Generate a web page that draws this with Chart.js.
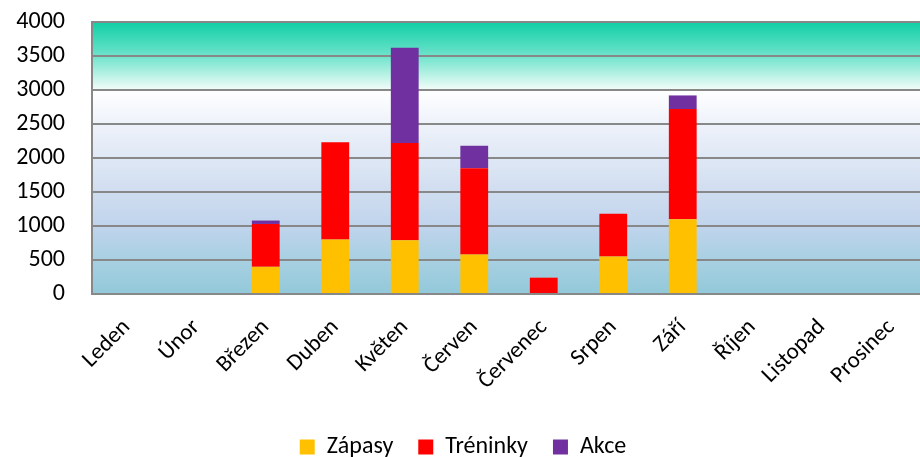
<!DOCTYPE html>
<html>
<head>
<meta charset="utf-8">
<script src="https://cdn.jsdelivr.net/npm/chart.js@4/dist/chart.umd.min.js"></script>
<style>
  html, body { margin: 0; padding: 0; background: #fff; overflow: hidden; }
  #wrap { width: 920px; height: 457px; overflow: hidden; }
  #box { width: 998px; height: 457px; }
</style>
</head>
<body>
<div id="wrap"><div id="box"><canvas id="chart"></canvas></div></div>
<script>
const months = ['Leden', 'Únor', 'Březen', 'Duben', 'Květen', 'Červen',
  'Červenec', 'Srpen', 'Září', 'Říjen', 'Listopad', 'Prosinec'];
const zapasy   = [0, 0, 400,  800,  790,  580,  0,   550, 1100, 0, 0, 0];
const treninky = [0, 0, 630, 1430, 1430, 1270, 240,  630, 1620, 0, 0, 0];
const akce     = [0, 0,  50,    0, 1400,  330,   0,    0,  200, 0, 0, 0];

const FONT = 'Carlito, Lato, sans-serif';

// gradient fill behind the plot area
const plotBackground = {
  id: 'plotBackground',
  beforeDraw(chart) {
    const { ctx, chartArea: a } = chart;
    if (!a) return;
    const g = ctx.createLinearGradient(0, a.top, 0, a.bottom);
    g.addColorStop(0, '#10cfa6');
    g.addColorStop(0.125, '#6ee3cb');
    g.addColorStop(0.245, '#eefcf7');
    g.addColorStop(0.25, '#ffffff');
    g.addColorStop(0.375, '#eef2fa');
    g.addColorStop(0.5, '#dfe8f5');
    g.addColorStop(0.625, '#d0ddf0');
    g.addColorStop(0.75, '#c0d4ec');
    g.addColorStop(0.875, '#a8d0e2');
    g.addColorStop(1, '#92c9da');
    ctx.save();
    ctx.fillStyle = g;
    ctx.fillRect(a.left, a.top, a.right - a.left, a.bottom - a.top);
    ctx.restore();
  }
};

new Chart(document.getElementById('chart'), {
  type: 'bar',
  data: {
    labels: months,
    datasets: [
      { label: 'Zápasy', data: zapasy, backgroundColor: '#ffc000' },
      { label: 'Tréninky', data: treninky, backgroundColor: '#ff0000' },
      { label: 'Akce', data: akce, backgroundColor: '#7030a0' }
    ]
  },
  options: {
    responsive: true,
    maintainAspectRatio: false,
    animation: false,
    layout: { padding: { top: 22, right: 72, left: 0, bottom: -12 } },
    datasets: { bar: { barPercentage: 0.4, categoryPercentage: 1 } },
    plugins: {
      legend: {
        position: 'bottom',
        labels: {
          color: '#000',
          font: { family: FONT, size: 24 },
          boxWidth: 15,
          boxHeight: 15,
          padding: 25
        }
      },
      tooltip: { enabled: false }
    },
    scales: {
      x: {
        stacked: true,
        grid: { display: false },
        border: { display: true, color: '#888', width: 2 },
        ticks: {
          color: '#000',
          font: { family: FONT, size: 23 },
          maxRotation: 45,
          minRotation: 45,
          padding: 12
        },
        afterFit(scale) {
          scale.height = 116;
          scale.paddingLeft = 0;
          scale.paddingRight = 0;
        }
      },
      y: {
        stacked: true,
        min: 0,
        max: 4000,
        ticks: {
          stepSize: 500,
          color: '#000',
          font: { family: FONT, size: 24 },
          padding: 27,
          callback: v => String(v)
        },
        grid: { color: '#888', lineWidth: 2, drawTicks: false },
        border: { display: true, color: '#888', width: 2 },
        afterFit(scale) {
          scale.width = 92;
          scale.paddingTop = 0;
          scale.paddingBottom = 0;
        }
      }
    }
  },
  plugins: [plotBackground]
});
</script>
</body>
</html>
